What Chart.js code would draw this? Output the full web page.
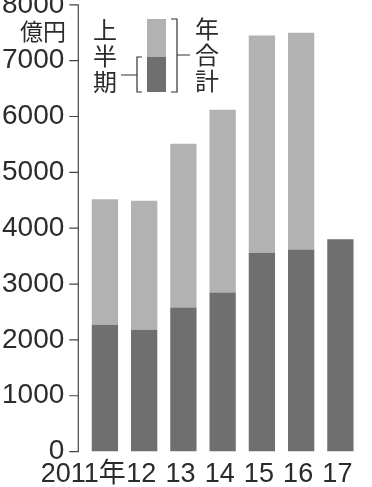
<!DOCTYPE html>
<html>
<head>
<meta charset="utf-8">
<style>
  html, body { margin: 0; padding: 0; background: #fff; overflow: hidden; }
  #wrap { position: relative; width: 372px; height: 487px; overflow: hidden; }
  #c { position: absolute; left: 0; top: -14px; }
</style>
</head>
<body>
<div id="wrap">
  <canvas id="c" width="372" height="504"></canvas>
</div>

<script src="https://cdn.jsdelivr.net/npm/chart.js"></script>

<script>
  // values (億円)
  const years = ['2011年     ', '12', '13', '14', '15', '16', '17']
  const firstHalf = [2270, 2180, 2580, 2850, 3560, 3620, 3800]
  const annualTotal = [4520, 4490, 5510, 6120, 7450, 7500, null]
  const yTicks = [0, 1000, 2000, 3000, 4000, 5000, 6000, 7000, 8000]

  const SHIFT = 14  // canvas is moved up by this much
  const DARK = '#6f6f6f'
  const LIGHT = '#b2b2b2'
  const INK = '#2b2b2b'
  const FONT = '"Liberation Sans", "Noto Sans CJK JP", sans-serif'
  const JFONT = '"Noto Sans CJK JP", sans-serif'

  const secondHalf = annualTotal.map((t, i) => t == null ? null : t - firstHalf[i])

  // y axis bracket line + legend box
  const decor = {
    id: 'decor',
    afterDraw(chart) {
      const ctx = chart.ctx
      const y = chart.scales.y
      const ax = chart.chartArea.left - 7
      ctx.save()
      ctx.strokeStyle = '#444'
      ctx.lineWidth = 1.2
      ctx.beginPath()
      ctx.moveTo(ax, y.getPixelForValue(8000))
      ctx.lineTo(ax, y.getPixelForValue(0))
      yTicks.forEach(v => {
        const py = y.getPixelForValue(v)
        ctx.moveTo(ax - 9, py)
        ctx.lineTo(ax + 0.6, py)
      })
      ctx.stroke()

      // unit
      ctx.fillStyle = INK
      ctx.font = '23px ' + JFONT
      ctx.textAlign = 'right'
      ctx.textBaseline = 'middle'
      ctx.fillText('億円', 66, 31 + SHIFT)

      // legend
      const o = SHIFT
      ctx.fillStyle = LIGHT
      ctx.fillRect(147, 19 + o, 19, 38)
      ctx.fillStyle = DARK
      ctx.fillRect(147, 57 + o, 19, 35)

      ctx.strokeStyle = '#333'
      ctx.lineWidth = 1.2
      ctx.beginPath()
      // left bracket
      ctx.moveTo(142, 57 + o); ctx.lineTo(137, 57 + o); ctx.lineTo(137, 92 + o); ctx.lineTo(142, 92 + o)
      ctx.moveTo(121, 75 + o); ctx.lineTo(137, 75 + o)
      // right bracket
      ctx.moveTo(171, 19 + o); ctx.lineTo(177, 19 + o); ctx.lineTo(177, 92 + o); ctx.lineTo(171, 92 + o)
      ctx.moveTo(177, 55 + o); ctx.lineTo(190, 55 + o)
      ctx.stroke()

      ctx.fillStyle = INK
      ctx.font = '24px ' + JFONT
      ctx.textAlign = 'center'
      ctx.textBaseline = 'middle'
      ;['上', '半', '期'].forEach((ch, i) => ctx.fillText(ch, 105, 30 + i * 26 + o))
      ;['年', '合', '計'].forEach((ch, i) => ctx.fillText(ch, 207, 29 + i * 26 + o))
      ctx.restore()
    }
  }

  const chart = new Chart(document.getElementById('c').getContext('2d'), {
    type: 'bar',
    data: {
      labels: years,
      datasets: [{
        label: '上半期',
        data: firstHalf,
        backgroundColor: DARK,
        borderWidth: 0,
        barPercentage: 0.67,
        categoryPercentage: 1,
      },
      {
        label: '年合計',
        data: secondHalf,
        backgroundColor: LIGHT,
        borderWidth: 0,
        barPercentage: 0.67,
        categoryPercentage: 1,
      }]
    },
    options: {
      responsive: false,
      animation: false,
      layout: { padding: { left: 0, right: 12, top: 0, bottom: 0 } },
      plugins: {
        legend: { display: false },
        tooltip: { enabled: false },
      },
      scales: {
        x: {
          stacked: true,
          grid: { display: false },
          border: { display: false },
          ticks: {
            color: INK,
            font: { family: FONT, size: 27 },
            padding: -1,
            autoSkip: false,
            maxRotation: 0,
            minRotation: 0,
            labelOffset: -3,
          }
        },
        y: {
          stacked: true,
          min: 0,
          max: 8000,
          afterBuildTicks: axis => { axis.ticks = yTicks.map(v => ({ value: v })) },
          grid: { display: false, drawTicks: true, tickLength: 19 },
          border: { display: false },
          ticks: {
            color: INK,
            font: { family: FONT, size: 28 },
            padding: 2,
            callback: v => String(v),
          }
        }
      }
    },
    plugins: [decor]
  });
</script>
</body>
</html>
